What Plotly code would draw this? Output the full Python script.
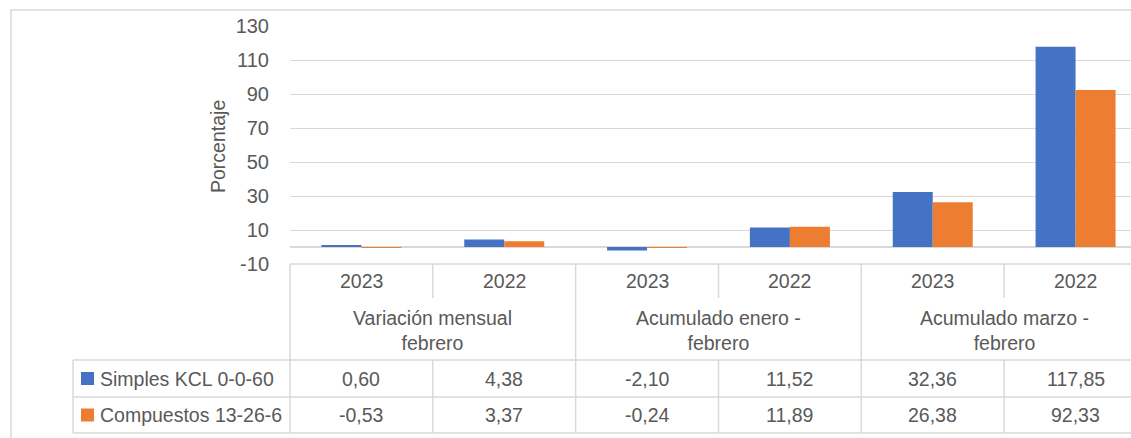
import plotly.graph_objects as go

years = ["2023", "2022", "2023", "2022", "2023", "2022"]
groups = ["Variación mensual<br>febrero", "Acumulado enero -<br>febrero", "Acumulado marzo -<br>febrero"]
series_names = ["Simples KCL 0-0-60", "Compuestos 13-26-6"]
simples = [0.60, 4.38, -2.10, 11.52, 32.36, 117.85]
compuestos = [-0.53, 3.37, -0.24, 11.89, 26.38, 92.33]
colors = ["#4472C4", "#ED7D31"]
y_ticks = [-10, 10, 30, 50, 70, 90, 110, 130]

W, H = 1131, 438
L, R, T, B = 290, 0, 26, 174
PW = W - L - R
PH = H - T - B
FONT = "Liberation Sans Narrow, Arial Narrow, Liberation Sans, Arial, sans-serif"
TXT = "#595959"
GRID = "#d9d9d9"
FS = 19.5

def py(px):
    return (H - B - px) / PH

def pxx(px):
    return (px - L) / PW

xs = list(range(len(years)))
fig = go.Figure()
for name, vals, col in zip(series_names, [simples, compuestos], colors):
    fig.add_trace(go.Bar(x=xs, y=vals, name=name, marker=dict(color=col, line=dict(width=0))))

shapes = []
ann = []
line = dict(color=GRID, width=1.5)
# table top line
shapes.append(dict(type="line", xref="paper", yref="paper", x0=0, x1=1.05, y0=py(264), y1=py(264), line=line))
# row lines
for yy in [360, 397, 433]:
    shapes.append(dict(type="line", xref="paper", yref="paper", x0=pxx(73), x1=1.05, y0=py(yy), y1=py(yy), line=line))
# left border of data area
shapes.append(dict(type="line", xref="paper", yref="paper", x0=0, x1=0, y0=py(264), y1=py(433), line=line))
# legend cell left border
shapes.append(dict(type="line", xref="paper", yref="paper", x0=pxx(73), x1=pxx(73), y0=py(360), y1=py(433), line=line))
# column separators
for i in range(len(years) - 1):
    xb = i + 0.5
    shapes.append(dict(type="line", xref="x", yref="paper", x0=xb, x1=xb, y0=py(264),
                       y1=py(298 if i % 2 == 0 else 360), line=line))
    shapes.append(dict(type="line", xref="x", yref="paper", x0=xb, x1=xb, y0=py(360), y1=py(433), line=line))
# outer border
shapes.append(dict(type="rect", xref="paper", yref="paper", x0=pxx(11), x1=pxx(1200), y0=py(10), y1=py(500),
                   line=dict(color=GRID, width=1.5), layer="below"))

fnt = dict(family=FONT, size=FS, color=TXT)
for i, yr in enumerate(years):
    ann.append(dict(x=i, y=py(281), xref="x", yref="paper", text=yr, showarrow=False, font=fnt,
                    xanchor="center", yanchor="middle"))
for g, label in enumerate(groups):
    ann.append(dict(x=2 * g + 0.5, y=py(330), xref="x", yref="paper", text=label, showarrow=False, font=fnt,
                    xanchor="center", yanchor="middle"))
for r, (vals, col, name) in enumerate(zip([simples, compuestos], colors, series_names)):
    yc = [378.5, 415][r]
    for i, v in enumerate(vals):
        ann.append(dict(x=i, y=py(yc), xref="x", yref="paper", text=f"{v:.2f}".replace(".", ","),
                        showarrow=False, font=fnt, xanchor="center", yanchor="middle"))
    shapes.append(dict(type="rect", xref="paper", yref="paper", x0=pxx(81), x1=pxx(94),
                       y0=py(yc - 6.5), y1=py(yc + 6.5), fillcolor=col, line=dict(width=0)))
    ann.append(dict(x=pxx(98), y=py(yc), xref="paper", yref="paper", text=name, showarrow=False,
                    xanchor="left", yanchor="middle", font=fnt))
# y axis title
ann.append(dict(x=pxx(218), y=py(147), xref="paper", yref="paper", text="Porcentaje", textangle=-90,
                showarrow=False, xanchor="center", yanchor="middle",
                font=dict(family=FONT, size=FS, color=TXT)))

fig.update_layout(
    width=W, height=H,
    margin=dict(l=L, r=R, t=T, b=B, pad=0),
    paper_bgcolor="white", plot_bgcolor="white",
    barmode="group", bargap=0.44, bargroupgap=0,
    showlegend=False,
    shapes=shapes, annotations=ann,
    xaxis=dict(range=[-0.5, 4.5 + 127 / 143], showticklabels=False, showgrid=False, zeroline=False,
               showline=False, fixedrange=True),
    yaxis=dict(range=[-10, 130], tickvals=y_ticks, ticktext=[str(t) for t in y_ticks],
               showgrid=True, gridcolor=GRID, gridwidth=1, zeroline=True, zerolinecolor=GRID,
               zerolinewidth=2, showline=False, ticks="", ticklabelstandoff=20,
               tickfont=dict(family=FONT, size=20, color=TXT), fixedrange=True),
)
fig.write_html("out.html", config={"displayModeBar": False},
               post_script="document.body.style.margin='0';document.body.style.overflow='hidden';")
